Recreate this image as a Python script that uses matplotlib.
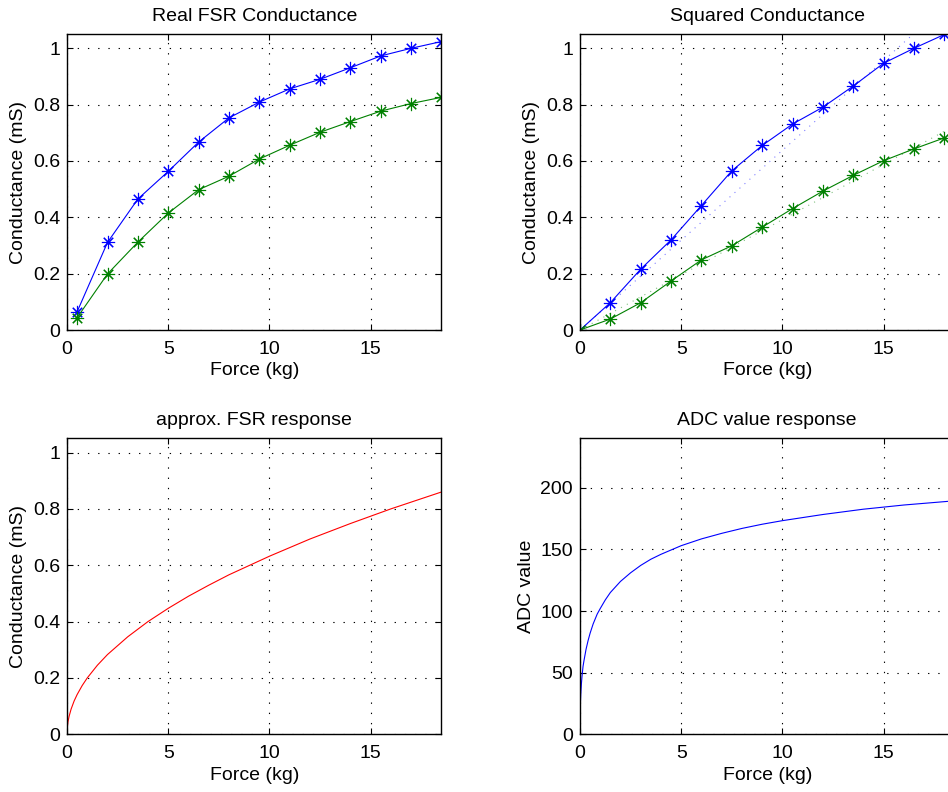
import numpy as np
import matplotlib.pyplot as plt
from matplotlib.ticker import FormatStrFormatter

plt.rcParams['font.family'] = ['Liberation Sans', 'DejaVu Sans']
plt.rcParams['font.size'] = 14

# Real FSR conductance (measured)
force_real = [0.5, 2, 3.5, 5, 6.5, 8, 9.5, 11, 12.5, 14, 15.5, 17, 18.5]
cond_real_1 = [0.065, 0.311, 0.465, 0.563, 0.667, 0.753, 0.809, 0.856, 0.890, 0.931, 0.973, 1.0, 1.024]
cond_real_2 = [0.044, 0.199, 0.312, 0.415, 0.498, 0.546, 0.607, 0.656, 0.702, 0.740, 0.777, 0.804, 0.826]

# Squared conductance
force_sq = [0, 1.5, 3, 4.5, 6, 7.5, 9, 10.5, 12, 13.5, 15, 16.5, 18]
cond_sq_1 = [0, 0.097, 0.216, 0.320, 0.442, 0.565, 0.655, 0.731, 0.791, 0.866, 0.947, 1.0, 1.049]
cond_sq_2 = [0, 0.039, 0.097, 0.174, 0.249, 0.299, 0.365, 0.431, 0.493, 0.549, 0.601, 0.643, 0.682]
fit_x = [0, 18.5]
fit_1 = [0, 1.18]
fit_2 = [0, 0.725]

# approx. FSR response
force_approx = [0, 0.005, 0.01, 0.02, 0.05, 0.1, 0.2, 0.35, 0.5, 0.75, 1, 1.5, 2, 3, 4, 5, 6, 7, 8,
                10, 12, 14, 16, 18.5]
cond_approx = [0, 0.014, 0.02, 0.028, 0.045, 0.063, 0.089, 0.118, 0.141, 0.173, 0.2, 0.245, 0.283,
               0.346, 0.4, 0.447, 0.49, 0.529, 0.566, 0.632, 0.693, 0.748, 0.8, 0.86]

# ADC value response
force_adc = [0, 0.005, 0.01, 0.02, 0.04, 0.07, 0.1, 0.15, 0.2, 0.3, 0.4, 0.5, 0.65, 0.85, 1, 1.25,
             1.5, 2, 2.5, 3, 3.5, 4, 5, 6, 7, 8, 9, 10, 12, 14, 16, 18.5]
adc_value = [0, 14, 19, 25, 33, 41, 47, 55, 60, 69, 76, 82, 89.5, 97.5, 102, 109, 115, 124, 131,
             137, 142, 146, 153, 158.5, 163, 167, 170.4, 173.3, 178.3, 182.6, 186, 189.4]

blue = (0, 0, 1)
green = (0, 0.5, 0)
red = (1, 0, 0)
dots = (0, (1.2, 8))
star = (8, 2, 0)

fig = plt.figure(figsize=(9.48, 7.92), dpi=100)
w, h = 0.395, 0.3735
ax1 = fig.add_axes([0.0707, 0.5833, w, h])
ax2 = fig.add_axes([0.6118, 0.5833, w, h])
ax3 = fig.add_axes([0.0707, 0.0729, w, h])
ax4 = fig.add_axes([0.6118, 0.0729, w, h])

ax1.plot(force_real, cond_real_1, color=blue, lw=0.8, marker=star, ms=9.5, mew=0.8)
ax1.plot(force_real, cond_real_2, color=green, lw=0.8, marker=star, ms=9.5, mew=0.8)
ax1.set_title('Real FSR Conductance', fontsize=14, pad=9.5)

ax2.plot(force_sq, cond_sq_1, color=blue, lw=0.8, marker=star, ms=9.5, mew=0.8)
ax2.plot(force_sq, cond_sq_2, color=green, lw=0.8, marker=star, ms=9.5, mew=0.8)
ax2.plot(fit_x, fit_1, color=blue, lw=0.8, linestyle=(0, (1, 5)), alpha=0.5)
ax2.plot(fit_x, fit_2, color=green, lw=0.8, linestyle=(0, (1, 5)), alpha=0.5)
ax2.set_title('Squared Conductance', fontsize=14, pad=9.5)

ax3.plot(force_approx, cond_approx, color=red, lw=0.8)
ax3.set_title('approx. FSR response', fontsize=14, pad=9.5)

ax4.plot(force_adc, adc_value, color=blue, lw=0.8)
ax4.set_title('ADC value response', fontsize=14, pad=9.5)

for ax in [ax1, ax2, ax3]:
    ax.set_ylim(0, 1.05)
    ax.set_yticks(np.arange(0, 1.01, 0.2))
    ax.yaxis.set_major_formatter(FormatStrFormatter('%g'))
    ax.set_ylabel('Conductance (mS)')
ax4.set_ylim(0, 240)
ax4.set_yticks([0, 50, 100, 150, 200])
ax4.set_ylabel('ADC value')

for ax in [ax1, ax2, ax3, ax4]:
    ax.set_xlim(0, 18.5)
    ax.set_xticks([0, 5, 10, 15])
    ax.set_xlabel('Force (kg)', labelpad=3)
    ax.grid(True, color='black', linestyle=dots, linewidth=0.8)
    ax.tick_params(direction='in', length=4, width=0.8, top=True, right=True)
    ax.tick_params(axis='x', pad=8)
    ax.tick_params(axis='y', pad=5)
    for s in ax.spines.values():
        s.set_linewidth(1.0)

plt.savefig('out.png', dpi=100)
